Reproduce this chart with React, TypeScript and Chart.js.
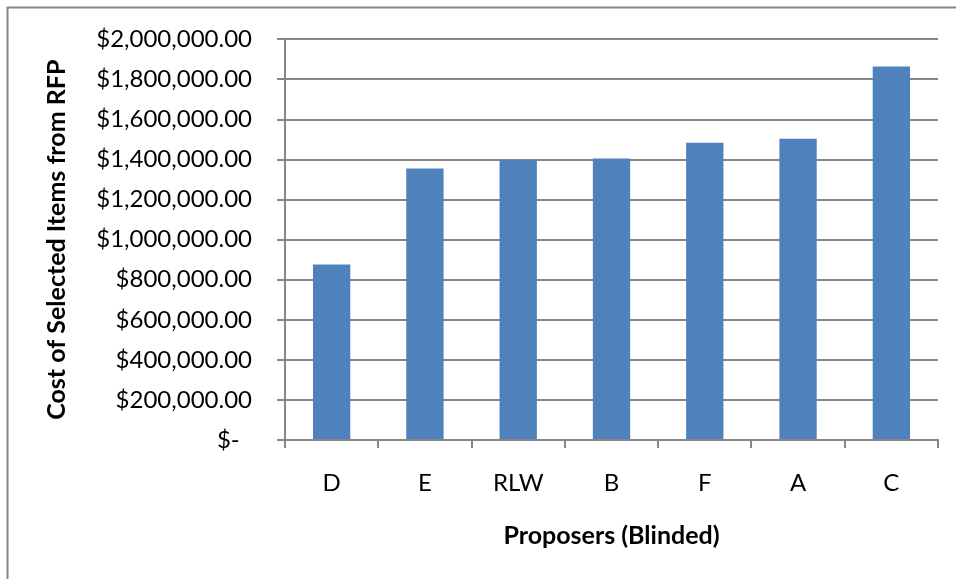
import React, { useEffect, useRef } from "react";
import { Chart, registerables } from "chart.js";

Chart.register(...registerables);

const categories = ["D", "E", "RLW", "B", "F", "A", "C"];
const costs = [876000, 1355000, 1398000, 1405000, 1484000, 1504000, 1865000];
const yMin = 0;
const yMax = 2000000;
const yStep = 200000;
const xTitle = "Proposers (Blinded)";
const yTitle = "Cost of Selected Items from RFP";
const zeroLabel = "$-  ";

const FONT = "Lato";
const GRID = "#868686";
const BAR = "#4F81BD";

function fmt(v: number): string {
  if (v === 0) return zeroLabel;
  return "$" + v.toLocaleString("en-US", { minimumFractionDigits: 2, maximumFractionDigits: 2 });
}

const framePlugin = {
  id: "frame",
  beforeDraw(chart: any) {
    const ctx = chart.ctx;
    ctx.save();
    ctx.fillStyle = "#ffffff";
    ctx.fillRect(0, 0, chart.width, chart.height);
    ctx.restore();
  },
  afterDraw(chart: any) {
    const ctx = chart.ctx;
    ctx.save();
    ctx.strokeStyle = "#868686";
    ctx.lineWidth = 2;
    ctx.strokeRect(7.5, 7.5, chart.width + 50, chart.height + 50);
    ctx.restore();
  },
};

export default function App() {
  const ref = useRef<HTMLCanvasElement | null>(null);
  useEffect(() => {
    document.body.style.margin = "0";
    const canvas = ref.current;
    if (!canvas) return;
    const chart = new Chart(canvas, {
      type: "bar",
      data: {
        labels: categories,
        datasets: [
          {
            data: costs,
            backgroundColor: BAR,
            borderWidth: 0,
            barPercentage: 0.4,
            categoryPercentage: 1,
          },
        ],
      },
      options: {
        responsive: false,
        animation: false,
        maintainAspectRatio: false,
        layout: { padding: { top: 37, right: 18, left: 0, bottom: 0 } },
        plugins: {
          legend: { display: false },
          tooltip: { enabled: false },
        },
        scales: {
          x: {
            grid: {
              display: true,
              drawOnChartArea: false,
              drawTicks: true,
              tickLength: 8,
              color: GRID,
              lineWidth: 2,
              offset: true,
            },
            border: { display: true, color: GRID, width: 2 },
            ticks: {
              color: "#000000",
              font: { family: FONT, size: 24 },
              padding: 21,
              maxRotation: 0,
              autoSkip: false,
            },
            title: {
              display: true,
              text: xTitle,
              color: "#000000",
              font: { family: FONT, size: 25, weight: "bold" },
              padding: { top: 0, bottom: 28 },
            },
            afterFit(scale: any) {
              scale.height = 139;
            },
          },
          y: {
            min: yMin,
            max: yMax,
            grid: {
              color: GRID,
              lineWidth: 2,
              tickLength: 8,
            },
            border: { display: true, color: GRID, width: 2 },
            ticks: {
              stepSize: yStep,
              color: "#000000",
              font: { family: FONT, size: 24 },
              padding: 25,
              callback: (v: any) => fmt(Number(v)),
            },
            title: {
              display: true,
              text: yTitle,
              color: "#000000",
              font: { family: FONT, size: 25, weight: "bold" },
              padding: { top: 42, bottom: 0 },
            },
            afterFit(scale: any) {
              scale.width = 285;
            },
          },
        },
      },
      plugins: [framePlugin],
    });
    return () => chart.destroy();
  }, []);
  return (
    <div style={{ position: "fixed", left: 0, top: 0, width: 956, height: 579 }}>
      <canvas ref={ref} width={956} height={579} style={{ width: 956, height: 579, display: "block" }} />
    </div>
  );
}
